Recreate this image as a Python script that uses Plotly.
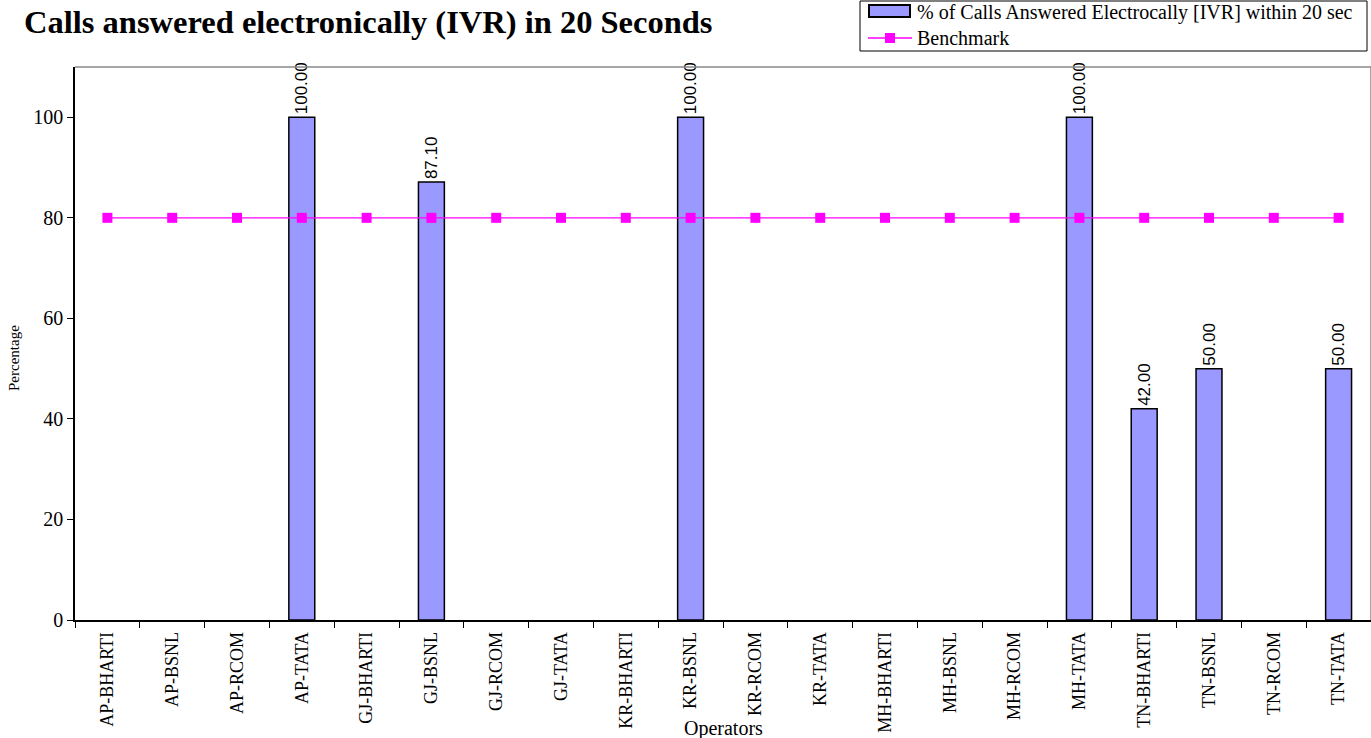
import plotly.graph_objects as go

operators = [
    "AP-BHARTI", "AP-BSNL", "AP-RCOM", "AP-TATA",
    "GJ-BHARTI", "GJ-BSNL", "GJ-RCOM", "GJ-TATA",
    "KR-BHARTI", "KR-BSNL", "KR-RCOM", "KR-TATA",
    "MH-BHARTI", "MH-BSNL", "MH-RCOM", "MH-TATA",
    "TN-BHARTI", "TN-BSNL", "TN-RCOM", "TN-TATA",
]
ivr_pct = [
    None, None, None, 100.00,
    None, 87.10, None, None,
    None, 100.00, None, None,
    None, None, None, 100.00,
    42.00, 50.00, None, 50.00,
]
benchmark = [80] * len(operators)
series_names = ["% of Calls Answered Electrocally [IVR] within 20 sec", "Benchmark"]

SERIF = "Liberation Serif, Times New Roman, serif"
SANS = "Liberation Sans, Arial, sans-serif"
BAR_FILL = "#9999FF"
BENCH = "#FF00FF"

W, H = 1371, 738
ML, MT, MB = 75, 67, 118
PW, PH = W - ML, H - MT - MB


def px(x):
    return (x - ML) / PW


def py(y):
    return (H - MB - y) / PH


fig = go.Figure()

fig.add_trace(go.Bar(
    x=operators,
    y=ivr_pct,
    name=series_names[0],
    width=0.4,
    marker=dict(color=BAR_FILL, line=dict(color="#000000", width=1.5)),
    texttemplate="%{y:.2f}",
    textposition="outside",
    textangle=-90,
    constraintext="none",
    textfont=dict(family=SANS, size=17, color="#000000"),
    cliponaxis=False,
))

fig.add_trace(go.Scatter(
    x=operators,
    y=benchmark,
    name=series_names[1],
    mode="lines+markers",
    line=dict(color=BENCH, width=1.2),
    marker=dict(symbol="square", size=10, color=BENCH),
))

# hand-built legend box in the top-right corner
legend_shapes = [
    dict(type="rect", xref="paper", yref="paper",
         x0=px(860), x1=px(1367), y0=py(51), y1=py(1),
         line=dict(color="#000000", width=1), fillcolor="#FFFFFF", layer="above"),
    dict(type="rect", xref="paper", yref="paper",
         x0=px(869), x1=px(910), y0=py(17), y1=py(5),
         line=dict(color="#000000", width=2), fillcolor=BAR_FILL, layer="above"),
    dict(type="line", xref="paper", yref="paper",
         x0=px(868), x1=px(912), y0=py(38), y1=py(38),
         line=dict(color=BENCH, width=1.5), layer="above"),
    dict(type="rect", xref="paper", yref="paper",
         x0=px(885), x1=px(895), y0=py(43), y1=py(33),
         line=dict(color=BENCH, width=0), fillcolor=BENCH, layer="above"),
]
legend_texts = [
    dict(text=series_names[0], xref="paper", yref="paper",
         x=px(915), y=py(13), xanchor="left", yanchor="middle", showarrow=False,
         font=dict(family=SERIF, size=20, color="#000000")),
    dict(text=series_names[1], xref="paper", yref="paper",
         x=px(915), y=py(38), xanchor="left", yanchor="middle", showarrow=False,
         font=dict(family=SERIF, size=20, color="#000000")),
]

fig.update_layout(
    width=W,
    height=H,
    margin=dict(l=ML, r=0, t=MT, b=MB, autoexpand=False),
    paper_bgcolor="#FFFFFF",
    plot_bgcolor="#FFFFFF",
    showlegend=False,
    xaxis=dict(
        type="category",
        range=[-0.5, len(operators) - 0.5],
        automargin=False,
        tickangle=-90,
        tickfont=dict(family=SERIF, size=18, color="#000000"),
        ticklabelstandoff=3,
        ticks="outside",
        tickson="boundaries",
        ticklen=6,
        tickcolor="#000000",
        showline=True,
        linecolor="#000000",
        linewidth=1.5,
        showgrid=False,
        zeroline=False,
    ),
    yaxis=dict(
        range=[0, 110],
        dtick=20,
        automargin=False,
        tickfont=dict(family=SERIF, size=20, color="#000000"),
        ticks="outside",
        ticklen=6,
        tickcolor="#000000",
        showline=True,
        linecolor="#000000",
        linewidth=1.5,
        showgrid=False,
        zeroline=False,
    ),
    shapes=[
        dict(type="line", xref="paper", yref="paper", x0=0, x1=1, y0=1, y1=1,
             line=dict(color="#888888", width=1.5)),
        dict(type="line", xref="paper", yref="paper", x0=1, x1=1, y0=0, y1=1,
             line=dict(color="#888888", width=1.5)),
    ] + legend_shapes,
    annotations=[
        dict(text="<b>Calls answered electronically (IVR) in 20 Seconds</b>",
             xref="paper", yref="paper", x=px(22), y=py(22),
             xanchor="left", yanchor="middle", showarrow=False,
             font=dict(family=SERIF, size=32.5, color="#000000")),
        dict(text="Percentage", textangle=-90,
             xref="paper", yref="paper", x=px(14), y=py(358),
             xanchor="center", yanchor="middle", showarrow=False,
             font=dict(family=SERIF, size=15, color="#000000")),
        dict(text="Operators",
             xref="paper", yref="paper", x=px(723), y=py(728),
             xanchor="center", yanchor="middle", showarrow=False,
             font=dict(family=SERIF, size=20, color="#000000")),
    ] + legend_texts,
)

fig.write_html("out.html")
